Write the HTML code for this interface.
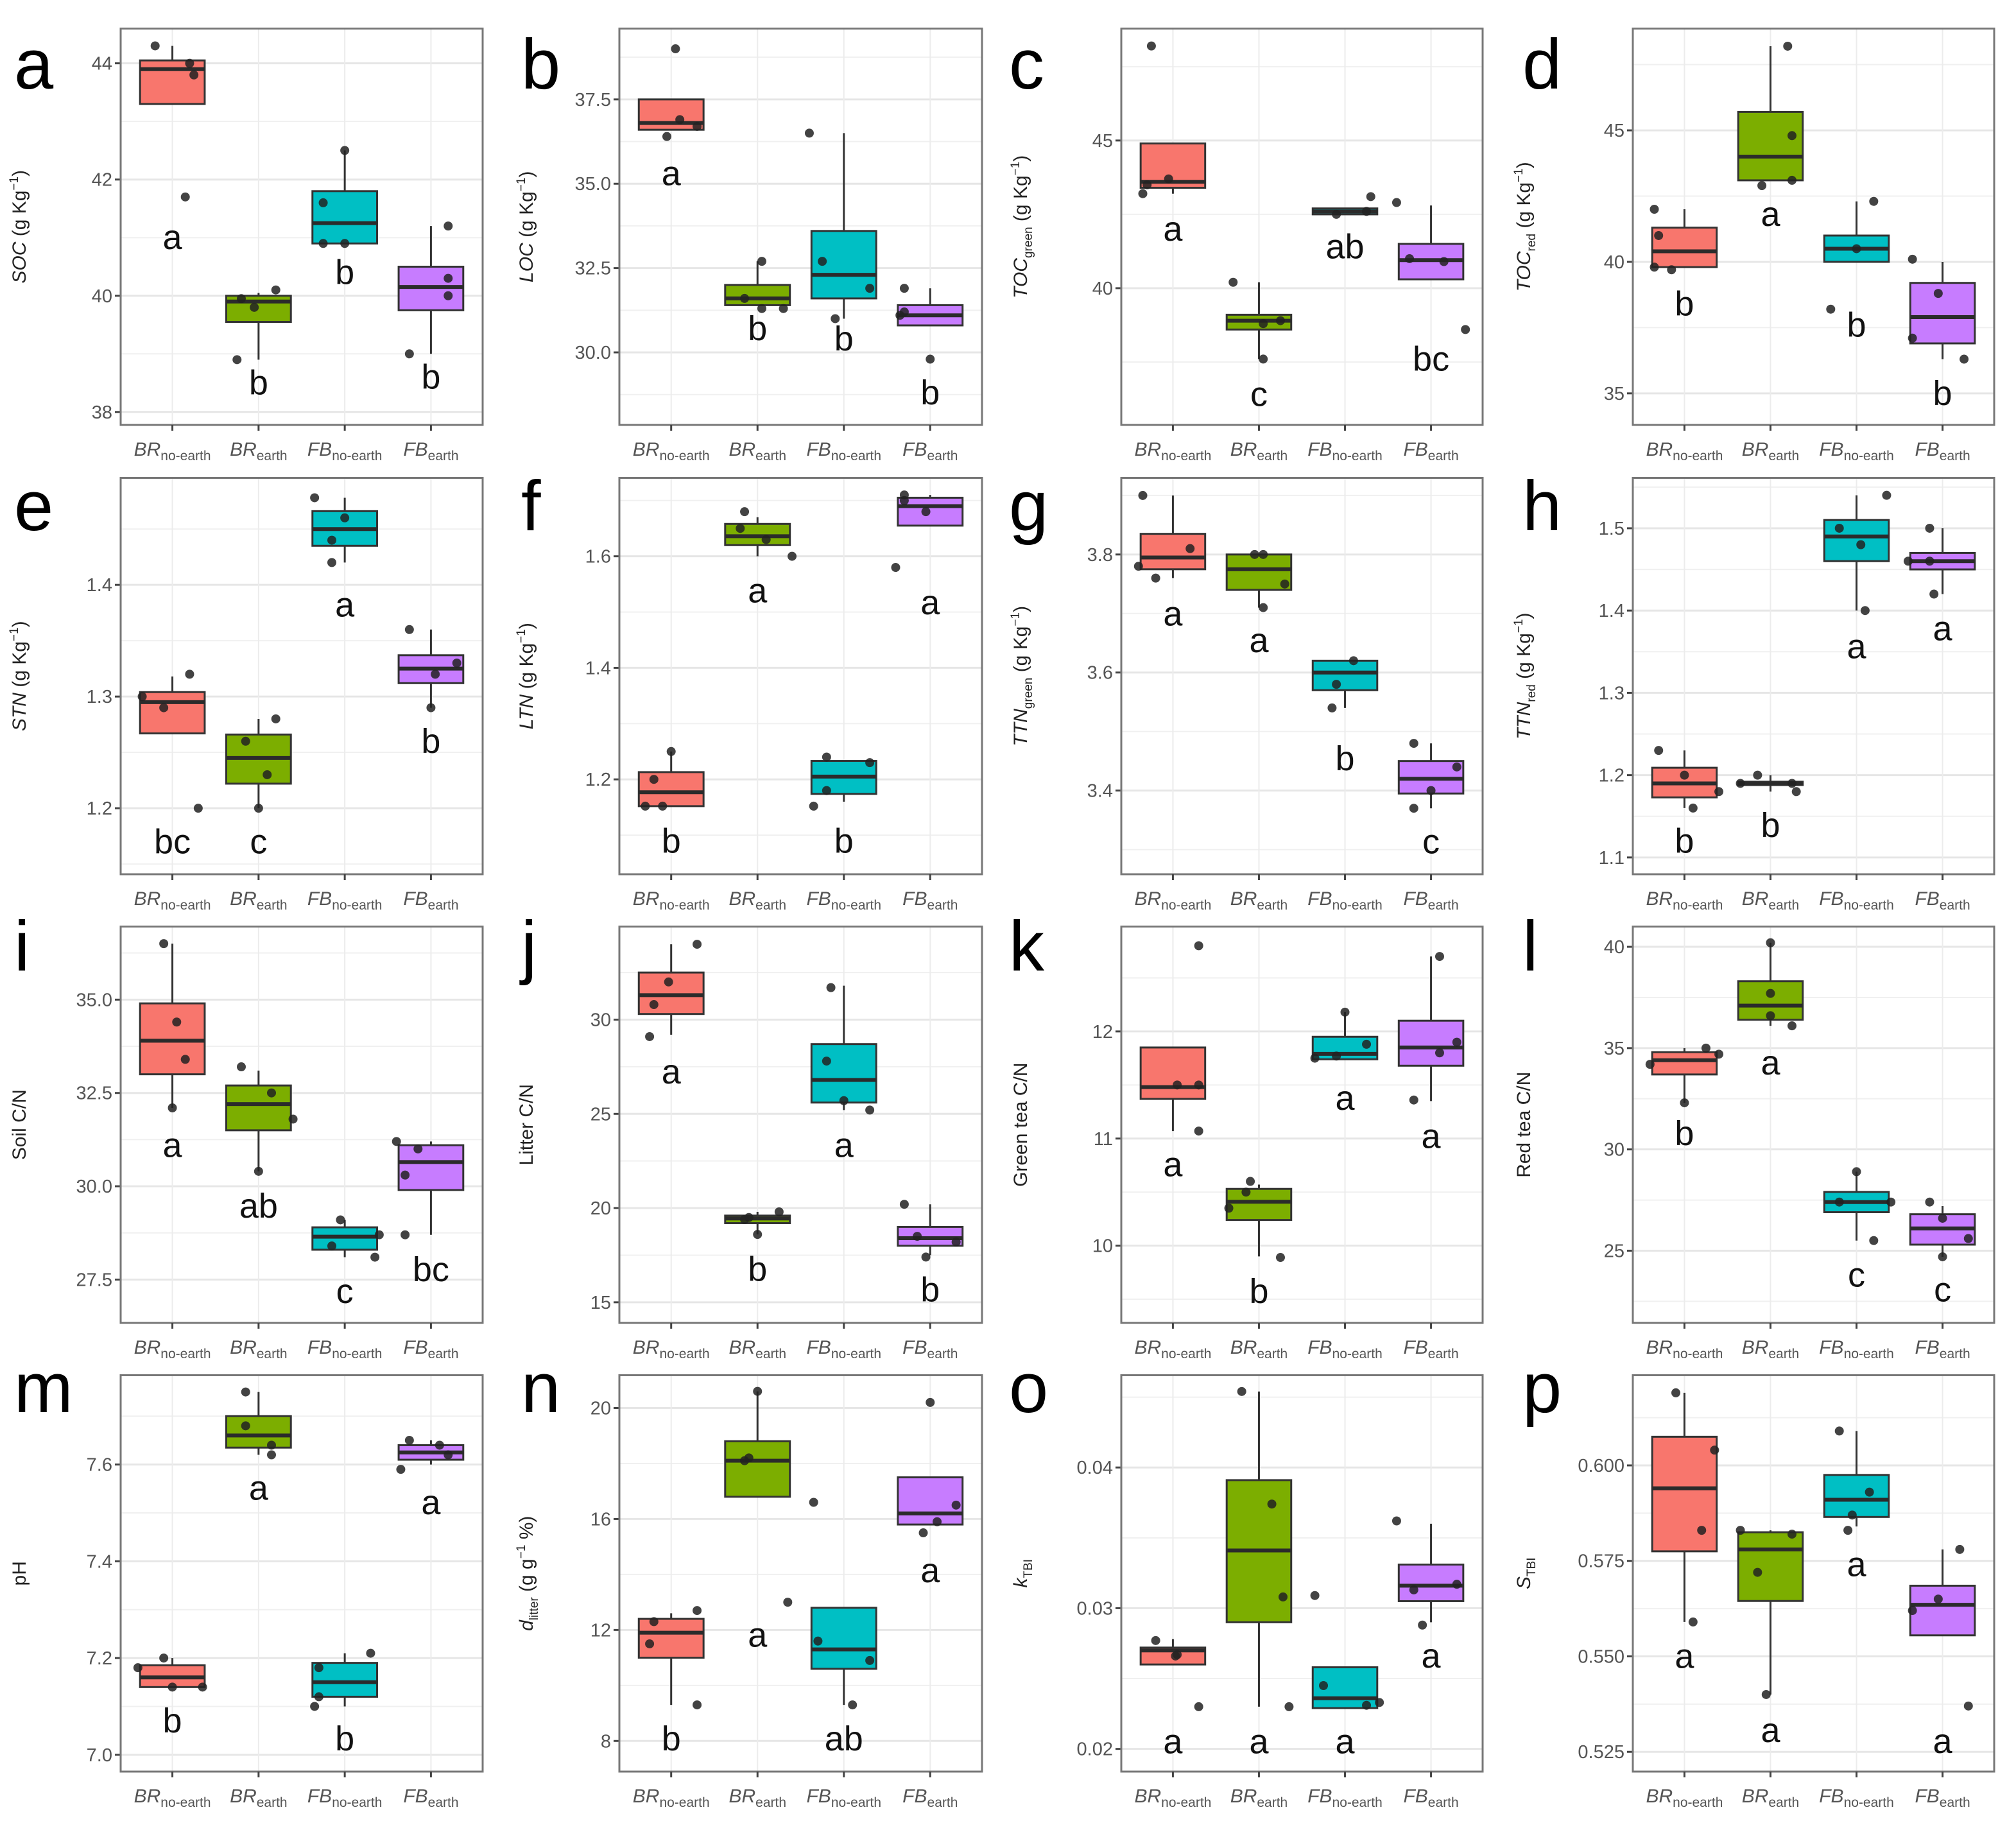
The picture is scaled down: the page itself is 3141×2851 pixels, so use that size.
<!DOCTYPE html>
<html><head><meta charset="utf-8"><title>Soil and tea box plots</title>
<style>
html,body{margin:0;padding:0;background:#fff;}
svg{display:block;font-family:"Liberation Sans",sans-serif;}
</style></head>
<body>
<svg id="fig" width="3141" height="2851" viewBox="0 0 3141 2851" xmlns="http://www.w3.org/2000/svg"></svg>
<script>
// ---- data: boxes [q1, median, q3, whiskerLow, whiskerHigh]; points [category, jitter, value]; letters ----
const categories = ["BR|no-earth","BR|earth","FB|no-earth","FB|earth"];
const colors = ["#F8766D","#7CAE00","#00BFC4","#C77CFF"];

const a_box = [[43.3,43.9,44.05,43.3,44.3],[39.55,39.9,40.0,38.9,40.05],[40.9,41.25,41.8,40.9,42.5],[39.75,40.15,40.5,39.0,41.2]];
const a_pts = [[0,-0.2,44.3],[0,0.2,44.0],[0,0.25,43.8],[0,0.15,41.7],[1,-0.2,39.95],[1,-0.05,39.8],[1,0.2,40.1],[1,-0.25,38.9],[2,-0.25,41.6],[2,-0.25,40.9],[2,0,40.9],[2,0,42.5],[3,-0.25,39.0],[3,0.2,40.3],[3,0.2,40.0],[3,0.2,41.2]];
const a_sig = ["a","b","b","b"];
const a_sigY = [41.0,38.5,40.4,38.6];
const a_ticks = [38,40,42,44];
const a_tickLabels = ["38","40","42","44"];

const b_box = [[36.6,36.8,37.5,36.6,37.5],[31.4,31.6,32.0,31.4,32.7],[31.6,32.3,33.6,31.0,36.5],[30.8,31.1,31.4,30.8,31.9]];
const b_pts = [[0,0.05,39.0],[0,-0.05,36.4],[0,0.1,36.9],[0,0.3,36.7],[1,-0.15,31.6],[1,0.05,32.7],[1,0.05,31.3],[1,0.3,31.3],[2,-0.4,36.5],[2,-0.25,32.7],[2,-0.1,31.0],[2,0.3,31.9],[3,-0.3,31.2],[3,-0.3,31.9],[3,0,29.8],[3,-0.35,31.1]];
const b_sig = ["a","b","b","b"];
const b_sigY = [35.3,30.7,30.4,28.8];
const b_ticks = [30,32.5,35,37.5];
const b_tickLabels = ["30.0","32.5","35.0","37.5"];

const c_box = [[43.4,43.6,44.9,43.2,44.9],[38.6,38.9,39.1,37.6,40.2],[42.5,42.6,42.7,42.5,42.7],[40.3,40.95,41.5,40.3,42.8]];
const c_pts = [[0,-0.35,43.2],[0,-0.3,43.5],[0,-0.05,43.7],[0,-0.25,48.2],[1,-0.3,40.2],[1,0.05,38.8],[1,0.25,38.9],[1,0.05,37.6],[2,-0.1,42.5],[2,0.25,42.6],[2,0.3,43.1],[3,-0.4,42.9],[3,-0.25,41.0],[3,0.15,40.9],[3,0.4,38.6]];
const c_sig = ["a","c","ab","bc"];
const c_sigY = [42.0,36.4,41.4,37.6];
const c_ticks = [40,45];
const c_tickLabels = ["40","45"];

const d_box = [[39.8,40.4,41.3,39.8,42.0],[43.1,44.0,45.7,43.1,48.2],[40.0,40.5,41.0,40.0,42.3],[36.9,37.9,39.2,36.3,40.0]];
const d_pts = [[0,-0.35,42.0],[0,-0.3,41.0],[0,-0.35,39.8],[0,-0.15,39.7],[1,0.2,48.2],[1,0.25,44.8],[1,0.25,43.1],[1,-0.1,42.9],[2,0.2,42.3],[2,-0.3,38.2],[2,0,40.5],[3,-0.35,40.1],[3,-0.35,37.1],[3,-0.05,38.8],[3,0.25,36.3]];
const d_sig = ["b","a","b","b"];
const d_sigY = [38.4,41.8,37.6,35.0];
const d_ticks = [35,40,45];
const d_tickLabels = ["35","40","45"];

const e_box = [[1.267,1.295,1.304,1.267,1.318],[1.222,1.245,1.266,1.20,1.28],[1.435,1.45,1.466,1.42,1.478],[1.312,1.325,1.337,1.29,1.36]];
const e_pts = [[0,-0.35,1.30],[0,-0.1,1.29],[0,0.2,1.32],[0,0.3,1.20],[1,-0.15,1.26],[1,0.1,1.23],[1,0,1.20],[1,0.2,1.28],[2,-0.35,1.478],[2,0,1.46],[2,-0.15,1.44],[2,-0.15,1.42],[3,-0.25,1.36],[3,0.3,1.33],[3,0.05,1.32],[3,0,1.29]];
const e_sig = ["bc","c","a","b"];
const e_sigY = [1.170,1.170,1.382,1.260];
const e_ticks = [1.2,1.3,1.4];
const e_tickLabels = ["1.2","1.3","1.4"];

const f_box = [[1.152,1.177,1.213,1.152,1.25],[1.620,1.636,1.658,1.60,1.67],[1.174,1.205,1.233,1.16,1.233],[1.655,1.69,1.705,1.655,1.71]];
const f_pts = [[0,-0.2,1.2],[0,-0.3,1.152],[0,-0.1,1.152],[0,0,1.25],[1,-0.15,1.68],[1,-0.2,1.65],[1,0.1,1.63],[1,0.4,1.60],[2,-0.35,1.152],[2,-0.2,1.24],[2,-0.2,1.18],[2,0.3,1.23],[3,-0.3,1.71],[3,-0.3,1.70],[3,-0.4,1.58],[3,-0.05,1.68]];
const f_sig = ["b","a","b","a"];
const f_sigY = [1.089,1.538,1.089,1.517];
const f_ticks = [1.2,1.4,1.6];
const f_tickLabels = ["1.2","1.4","1.6"];

const g_box = [[3.775,3.795,3.835,3.76,3.90],[3.740,3.775,3.800,3.71,3.80],[3.570,3.600,3.620,3.54,3.62],[3.395,3.42,3.450,3.37,3.48]];
const g_pts = [[0,-0.35,3.90],[0,-0.4,3.78],[0,-0.2,3.76],[0,0.2,3.81],[1,-0.05,3.80],[1,0.05,3.80],[1,0.3,3.75],[1,0.05,3.71],[2,0.1,3.62],[2,-0.1,3.58],[2,-0.15,3.54],[3,-0.2,3.48],[3,0.3,3.44],[3,0,3.40],[3,-0.2,3.37]];
const g_sig = ["a","a","b","c"];
const g_sigY = [3.699,3.654,3.454,3.313];
const g_ticks = [3.4,3.6,3.8];
const g_tickLabels = ["3.4","3.6","3.8"];

const h_box = [[1.173,1.19,1.209,1.16,1.23],[1.188,1.19,1.192,1.18,1.20],[1.46,1.49,1.51,1.40,1.54],[1.45,1.46,1.47,1.42,1.50]];
const h_pts = [[0,-0.3,1.23],[0,0,1.20],[0,0.4,1.18],[0,0.1,1.16],[1,-0.35,1.19],[1,-0.15,1.20],[1,0.25,1.19],[1,0.3,1.18],[2,-0.2,1.50],[2,0.05,1.48],[2,0.1,1.40],[2,0.35,1.54],[3,-0.4,1.46],[3,-0.15,1.46],[3,-0.15,1.50],[3,-0.1,1.42]];
const h_sig = ["b","b","a","a"];
const h_sigY = [1.1197,1.139,1.356,1.378];
const h_ticks = [1.1,1.2,1.3,1.4,1.5];
const h_tickLabels = ["1.1","1.2","1.3","1.4","1.5"];

const i_box = [[33.0,33.9,34.9,32.1,36.5],[31.5,32.2,32.7,30.4,33.1],[28.3,28.65,28.9,28.1,29.1],[29.9,30.65,31.1,28.7,31.2]];
const i_pts = [[0,-0.1,36.5],[0,0.05,34.4],[0,0.15,33.4],[0,0,32.1],[1,-0.2,33.2],[1,0.15,32.5],[1,0.4,31.8],[1,0,30.4],[2,-0.05,29.1],[2,-0.15,28.4],[2,0.4,28.7],[2,0.35,28.1],[3,-0.4,31.2],[3,-0.3,30.3],[3,-0.15,31.0],[3,-0.3,28.7]];
const i_sig = ["a","ab","c","bc"];
const i_sigY = [31.09,29.47,27.18,27.77];
const i_ticks = [27.5,30,32.5,35];
const i_tickLabels = ["27.5","30.0","32.5","35.0"];

const j_box = [[30.3,31.3,32.5,29.2,34.0],[19.2,19.45,19.6,18.6,19.8],[25.6,26.8,28.7,25.2,31.8],[18.0,18.4,19.0,17.5,20.2]];
const j_pts = [[0,0.3,34.0],[0,-0.03,32.0],[0,-0.2,30.8],[0,-0.25,29.1],[1,-0.1,19.5],[1,0.25,19.8],[1,0,18.6],[1,-0.15,19.4],[2,-0.15,31.7],[2,-0.2,27.8],[2,0,25.7],[2,0.3,25.2],[3,-0.3,20.2],[3,-0.15,18.5],[3,0.3,18.2],[3,-0.05,17.4]];
const j_sig = ["a","b","a","b"];
const j_sigY = [27.23,16.75,23.32,15.66];
const j_ticks = [15,20,25,30];
const j_tickLabels = ["15","20","25","30"];

const k_box = [[11.37,11.48,11.85,11.07,11.85],[10.24,10.41,10.53,9.9,10.57],[11.74,11.79,11.95,11.74,12.18],[11.68,11.85,12.1,11.35,12.7]];
const k_pts = [[0,0.3,12.8],[0,0.05,11.5],[0,0.3,11.5],[0,0.3,11.07],[1,-0.1,10.6],[1,-0.15,10.5],[1,-0.35,10.35],[1,0.25,9.89],[2,0,12.18],[2,-0.35,11.75],[2,-0.1,11.77],[2,0.25,11.88],[3,0.1,12.7],[3,-0.2,11.36],[3,0.1,11.8],[3,0.3,11.9]];
const k_sig = ["a","b","a","a"];
const k_sigY = [10.757,9.574,11.376,11.019];
const k_ticks = [10,11,12];
const k_tickLabels = ["10","11","12"];

const l_box = [[33.7,34.4,34.8,32.3,35.0],[36.4,37.1,38.3,36.1,40.2],[26.9,27.4,27.9,25.5,28.9],[25.3,26.1,26.8,24.7,27.2]];
const l_pts = [[0,-0.4,34.2],[0,0,32.3],[0,0.25,35.0],[0,0.4,34.7],[1,0,40.2],[1,0,37.7],[1,0,36.6],[1,0.25,36.1],[2,-0.2,27.4],[2,0.4,27.4],[2,0,28.9],[2,0.2,25.5],[3,-0.15,27.4],[3,0,26.6],[3,0.3,25.6],[3,0,24.7]];
const l_sig = ["b","a","c","c"];
const l_sigY = [30.78,34.27,23.79,23.06];
const l_ticks = [25,30,35,40];
const l_tickLabels = ["25","30","35","40"];

const m_box = [[7.14,7.16,7.185,7.14,7.20],[7.635,7.66,7.70,7.62,7.75],[7.12,7.15,7.19,7.10,7.21],[7.61,7.625,7.64,7.60,7.65]];
const m_pts = [[0,-0.4,7.18],[0,-0.1,7.20],[0,0,7.14],[0,0.35,7.14],[1,-0.15,7.75],[1,-0.15,7.68],[1,0.15,7.64],[1,0.15,7.62],[2,-0.35,7.10],[2,-0.3,7.12],[2,-0.3,7.18],[2,0.3,7.21],[3,-0.35,7.59],[3,-0.25,7.65],[3,0.1,7.64],[3,0.2,7.62]];
const m_sig = ["b","a","b","a"];
const m_sigY = [7.07,7.551,7.033,7.521];
const m_ticks = [7.0,7.2,7.4,7.6];
const m_tickLabels = ["7.0","7.2","7.4","7.6"];

const n_box = [[11.0,11.9,12.4,9.3,12.6],[16.8,18.1,18.8,16.8,20.6],[10.6,11.3,12.8,9.3,12.8],[15.8,16.2,17.5,15.8,17.5]];
const n_pts = [[0,-0.2,12.3],[0,-0.25,11.5],[0,0.3,12.7],[0,0.3,9.3],[1,0,20.6],[1,-0.15,18.1],[1,-0.1,18.2],[1,0.35,13.0],[2,-0.35,16.6],[2,-0.3,11.6],[2,0.3,10.9],[2,0.1,9.3],[3,0,20.2],[3,0.3,16.5],[3,0.08,15.9],[3,-0.08,15.5]];
const n_sig = ["b","a","ab","a"];
const n_sigY = [8.08,11.81,8.08,14.14];
const n_ticks = [8,12,16,20];
const n_tickLabels = ["8","12","16","20"];

const o_box = [[0.0260,0.0270,0.0272,0.0260,0.0278],[0.0290,0.0341,0.0391,0.0230,0.0454],[0.0229,0.0236,0.0258,0.0229,0.0258],[0.0305,0.0316,0.0331,0.0290,0.0360]];
const o_pts = [[0,-0.2,0.0277],[0,0.05,0.0267],[0,0.3,0.0230],[0,0.03,0.0266],[1,-0.2,0.0454],[1,0.15,0.0374],[1,0.28,0.0308],[1,0.35,0.0230],[2,-0.35,0.0309],[2,-0.25,0.0245],[2,0.25,0.0231],[2,0.4,0.0233],[3,-0.4,0.0362],[3,-0.2,0.0313],[3,0.3,0.0317],[3,-0.1,0.0288]];
const o_sig = ["a","a","a","a"];
const o_sigY = [0.0205,0.0205,0.0205,0.0266];
const o_ticks = [0.02,0.03,0.04];
const o_tickLabels = ["0.02","0.03","0.04"];

const p_box = [[0.5775,0.594,0.6075,0.559,0.619],[0.5645,0.578,0.5825,0.540,0.583],[0.5865,0.591,0.5975,0.584,0.609],[0.5555,0.5635,0.5685,0.5555,0.578]];
const p_pts = [[0,-0.1,0.619],[0,0.35,0.604],[0,0.2,0.583],[0,0.1,0.559],[1,-0.35,0.583],[1,0.25,0.582],[1,-0.15,0.572],[1,-0.05,0.540],[2,-0.2,0.609],[2,0.15,0.593],[2,-0.05,0.587],[2,-0.1,0.583],[3,-0.35,0.562],[3,-0.05,0.565],[3,0.2,0.578],[3,0.3,0.537]];
const p_sig = ["a","a","a","a"];
const p_sigY = [0.550,0.5306,0.574,0.5277];
const p_ticks = [0.525,0.55,0.575,0.6];
const p_tickLabels = ["0.525","0.550","0.575","0.600"];

// ---- layout (axis ranges and positions) ----
const colX = [188, 965, 1747, 2544];
const colW = [564, 565, 563, 563];
const titleOff = [148, 135, 147, 160];
const letterX = [22, 812, 1572, 2372];
const rowY = [44.5, 744.5, 1443.5, 2142.5];
const letterBase = [138, 826, 1512, 2200];
const plotH = 617.5;

const panels = [
 {id:"a",r:0,c:0,box:a_box,pts:a_pts,sig:a_sig,sigY:a_sigY,ticks:a_ticks,tl:a_tickLabels,dom:[37.777,44.598],title:[["SOC","i"],[" (g Kg",""],["−1","sup"],[")",""]]},
 {id:"b",r:0,c:1,box:b_box,pts:b_pts,sig:b_sig,sigY:b_sigY,ticks:b_ticks,tl:b_tickLabels,dom:[27.85,39.60],title:[["LOC","i"],[" (g Kg",""],["−1","sup"],[")",""]]},
 {id:"c",r:0,c:2,box:c_box,pts:c_pts,sig:c_sig,sigY:c_sigY,ticks:c_ticks,tl:c_tickLabels,dom:[35.37,48.79],title:[["TOC","i"],["green","sub"],[" (g Kg",""],["−1","sup"],[")",""]]},
 {id:"d",r:0,c:3,box:d_box,pts:d_pts,sig:d_sig,sigY:d_sigY,ticks:d_ticks,tl:d_tickLabels,dom:[33.80,48.87],title:[["TOC","i"],["red","sub"],[" (g Kg",""],["−1","sup"],[")",""]]},
 {id:"e",r:1,c:0,box:e_box,pts:e_pts,sig:e_sig,sigY:e_sigY,ticks:e_ticks,tl:e_tickLabels,dom:[1.1409,1.4958],title:[["STN","i"],[" (g Kg",""],["−1","sup"],[")",""]]},
 {id:"f",r:1,c:1,box:f_box,pts:f_pts,sig:f_sig,sigY:f_sigY,ticks:f_ticks,tl:f_tickLabels,dom:[1.0299,1.7406],title:[["LTN","i"],[" (g Kg",""],["−1","sup"],[")",""]]},
 {id:"g",r:1,c:2,box:g_box,pts:g_pts,sig:g_sig,sigY:g_sigY,ticks:g_ticks,tl:g_tickLabels,dom:[3.2582,3.9298],title:[["TTN","i"],["green","sub"],[" (g Kg",""],["−1","sup"],[")",""]]},
 {id:"h",r:1,c:3,box:h_box,pts:h_pts,sig:h_sig,sigY:h_sigY,ticks:h_ticks,tl:h_tickLabels,dom:[1.0796,1.5612],title:[["TTN","i"],["red","sub"],[" (g Kg",""],["−1","sup"],[")",""]]},
 {id:"i",r:2,c:0,box:i_box,pts:i_pts,sig:i_sig,sigY:i_sigY,ticks:i_ticks,tl:i_tickLabels,dom:[26.339,36.958],title:[["Soil C/N",""]]},
 {id:"j",r:2,c:1,box:j_box,pts:j_pts,sig:j_sig,sigY:j_sigY,ticks:j_ticks,tl:j_tickLabels,dom:[13.905,34.94],title:[["Litter C/N",""]]},
 {id:"k",r:2,c:2,box:k_box,pts:k_pts,sig:k_sig,sigY:k_sigY,ticks:k_ticks,tl:k_tickLabels,dom:[9.279,12.979],title:[["Green tea C/N",""]]},
 {id:"l",r:2,c:3,box:l_box,pts:l_pts,sig:l_sig,sigY:l_sigY,ticks:l_ticks,tl:l_tickLabels,dom:[21.435,41.0],title:[["Red tea C/N",""]]},
 {id:"m",r:3,c:0,box:m_box,pts:m_pts,sig:m_sig,sigY:m_sigY,ticks:m_ticks,tl:m_tickLabels,dom:[6.9653,7.7846],title:[["pH",""]]},
 {id:"n",r:3,c:1,box:n_box,pts:n_pts,sig:n_sig,sigY:n_sigY,ticks:n_ticks,tl:n_tickLabels,dom:[6.896,21.18],title:[["d","i"],["litter","sub"],[" (g g",""],["−1","sup"],[" %)",""]]},
 {id:"o",r:3,c:2,box:o_box,pts:o_pts,sig:o_sig,sigY:o_sigY,ticks:o_ticks,tl:o_tickLabels,dom:[0.018388,0.046555],title:[["k","i"],["TBI","sub"]]},
 {id:"p",r:3,c:3,box:p_box,pts:p_pts,sig:p_sig,sigY:p_sigY,ticks:p_ticks,tl:p_tickLabels,dom:[0.51983,0.62361],title:[["S","i"],["TBI","sub"]]}
];

const NS = "http://www.w3.org/2000/svg";
const svg = document.getElementById("fig");
function mk(tag, attrs, parent){
  const e = document.createElementNS(NS, tag);
  for (const k in attrs) e.setAttribute(k, attrs[k]);
  (parent||svg).appendChild(e);
  return e;
}

panels.forEach(P => {
  const x0 = colX[P.c], w = colW[P.c], y0 = rowY[P.r], h = plotH;
  const step = w / 4.2;
  const xs = (cat, dx) => x0 + (0.6 + cat + (dx||0)) * step;
  const ys = v => y0 + h - (v - P.dom[0]) / (P.dom[1] - P.dom[0]) * h;

  const g = mk("g", {});
  
  

  const bg = mk("rect", {x:x0, y:y0, width:w, height:h, fill:"#fff"}, g);
  
  

  // minor grid
  for (let t = 0; t < P.ticks.length + 1; t++) {
    const d = P.ticks.length > 1 ? (P.ticks[1] - P.ticks[0]) : 5;
    const v = P.ticks[0] - d/2 + t*d;
    if (v > P.dom[0] && v < P.dom[1]) {
      const gl = mk("line", {x1:x0, x2:x0+w, y1:ys(v), y2:ys(v), stroke:"#f0f0f0", "stroke-width":2}, g);
      
      
    }
  }
  // extra minor lines beyond
  P.ticks.forEach((v, ti) => {
    const gl = mk("line", {x1:x0, x2:x0+w, y1:ys(v), y2:ys(v), stroke:"#e6e6e6", "stroke-width":3}, g);
    
    
    const tk = mk("line", {x1:x0-9, x2:x0, y1:ys(v), y2:ys(v), stroke:"#444", "stroke-width":3}, g);
    
    
    const tx = mk("text", {x:x0-13, y:ys(v)+10, "text-anchor":"end", "font-size":29, fill:"#555"}, g);
    tx.textContent = P.tl[ti];
    
    
  });
  categories.forEach((c, ci) => {
    const gl = mk("line", {x1:xs(ci), x2:xs(ci), y1:y0, y2:y0+h, stroke:"#ececec", "stroke-width":2}, g);
    
    
  });

  // boxes
  P.box.forEach((b, ci) => {
    const cx = xs(ci), bw = step*0.75;
    const wl = mk("line", {x1:cx, x2:cx, y1:ys(b[3]), y2:ys(b[4]), stroke:"#333", "stroke-width":3}, g);
    
    
    const r = mk("rect", {x:cx-bw/2, y:ys(b[2]), width:bw, height:Math.max(ys(b[0])-ys(b[2]),1), fill:colors[ci], stroke:"#333", "stroke-width":3}, g);
    
    
    const md = mk("line", {x1:cx-bw/2, x2:cx+bw/2, y1:ys(b[1]), y2:ys(b[1]), stroke:"#2b2b2b", "stroke-width":6}, g);
    
    
  });
  // points
  P.pts.forEach(p => {
    const c = mk("circle", {cx:xs(p[0], p[1]), cy:ys(p[2]), r:7, fill:"#222", "fill-opacity":0.85}, g);
    
    
  });
  // significance letters
  P.sig.forEach((s, ci) => {
    const t = mk("text", {x:xs(ci), y:ys(P.sigY[ci])+18, "text-anchor":"middle", "font-size":54, fill:"#111"}, g);
    t.textContent = s;
    
    
  });

  const border = mk("rect", {x:x0, y:y0, width:w, height:h, fill:"none", stroke:"#777", "stroke-width":3}, g);
  
  

  // x axis
  categories.forEach((c, ci) => {
    const tk = mk("line", {x1:xs(ci), x2:xs(ci), y1:y0+h, y2:y0+h+9, stroke:"#444", "stroke-width":3}, g);
    
    
    const parts = c.split("|");
    const t = mk("text", {x:xs(ci), y:y0+h+48, "text-anchor":"middle", fill:"#555"}, g);
    
    
    const t1 = mk("tspan", {"font-size":30, "font-style":"italic"}, t); t1.textContent = parts[0];
    const t2 = mk("tspan", {"font-size":21, dy:7}, t); t2.textContent = parts[1];
  });

  // y title
  const cy = y0 + h/2, tx = x0 - titleOff[P.c];
  const yt = mk("text", {x:tx, y:cy, "text-anchor":"middle", "font-size":30, fill:"#222", transform:`rotate(-90 ${tx} ${cy})`}, g);
  
  
  let shift = 0;
  P.title.forEach(seg => {
    const a = {};
    if (seg[1] === "i") a["font-style"] = "italic";
    if (seg[1] === "sub") { a["font-size"] = 19; a.dy = 8 - shift; shift = 8; }
    else if (seg[1] === "sup") { a["font-size"] = 19; a.dy = -12 - shift; shift = -12; }
    else if (shift !== 0) { a.dy = -shift; shift = 0; }
    const ts = mk("tspan", a, yt); ts.textContent = seg[0];
  });

  // panel letter
  const pl = mk("text", {x:letterX[P.c], y:letterBase[P.r], "font-size":110, fill:"#000"}, g);
  pl.textContent = P.id;
  
  
});
</script>
</body></html>
